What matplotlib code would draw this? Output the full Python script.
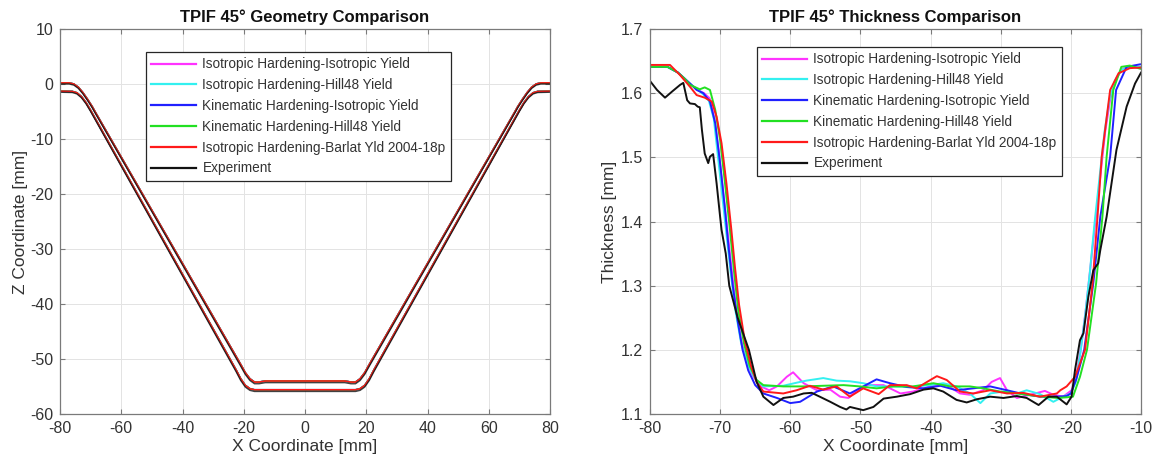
import matplotlib
matplotlib.use("Agg")
import matplotlib.pyplot as plt

plt.rcParams['font.family'] = ['Liberation Sans', 'DejaVu Sans']
plt.rcParams['axes.unicode_minus'] = False

# ---------------- Data: geometry (left) ----------------
# simulated top surface
geo_sim_top_x = [-80, -77, -75.5, -74, -72.5, -71, -69.5, -68.6, -21, -19.5, -18, -16.5, -15, -13,
                 13, 15, 16.5, 18, 19.5, 21, 68.6, 69.5, 71, 72.5, 74, 75.5, 77, 80]
geo_sim_top_z = [0.2, 0.2, 0.0, -0.6, -1.6, -2.8, -4.1, -5.0, -51.0, -52.5, -53.6, -54.2, -54.2, -54.0,
                 -54.0, -54.2, -54.2, -53.6, -52.5, -51.0, -5.0, -4.1, -2.8, -1.6, -0.6, 0.0, 0.2, 0.2]
# simulated bottom surface
geo_sim_bot_x = [-80, -76, -74.5, -73, -71.5, -70, -22.5, -21, -19.5, -18, -16.5, -15,
                 15, 16.5, 18, 19.5, 21, 22.5, 70, 71.5, 73, 74.5, 76, 80]
geo_sim_bot_z = [-1.3, -1.35, -1.6, -2.3, -3.4, -4.8, -52.0, -53.6, -54.8, -55.4, -55.6, -55.6,
                 -55.6, -55.6, -55.4, -54.8, -53.6, -52.0, -4.8, -3.4, -2.3, -1.6, -1.35, -1.3]
# experiment surfaces
geo_exp_top_x = [-80, -77, -75.5, -74, -72.5, -71, -69.5, -68.6, -21, -19.5, -18, -16.5, -15, -13,
                 13, 15, 16.5, 18, 19.5, 21, 68.6, 69.5, 71, 72.5, 74, 75.5, 77, 80]
geo_exp_top_z = [0.0, 0.0, -0.2, -0.8, -1.8, -3.0, -4.3, -5.2, -51.3, -52.8, -53.9, -54.5, -54.5, -54.3,
                 -54.3, -54.5, -54.5, -53.9, -52.8, -51.3, -5.2, -4.3, -3.0, -1.8, -0.8, -0.2, 0.0, 0.0]
geo_exp_bot_x = [-80, -76, -74.5, -73, -71.5, -70, -22.5, -21, -19.5, -18, -16.5, -15,
                 15, 16.5, 18, 19.5, 21, 22.5, 70, 71.5, 73, 74.5, 76, 80]
geo_exp_bot_z = [-1.5, -1.55, -1.8, -2.5, -3.6, -5.0, -52.3, -53.9, -55.1, -55.7, -55.9, -55.9,
                 -55.9, -55.9, -55.7, -55.1, -53.9, -52.3, -5.0, -3.6, -2.5, -1.8, -1.55, -1.5]

# ---------------- Data: thickness (right) ----------------
th_iso_iso_x = [-80, -77.5, -76, -75, -74, -73, -72.3, -71.5, -70.8, -70.2, -69.6, -69.0, -68.4, -67.8,
                -67.0, -66.2, -65.2, -64.2, -63.0, -61.9, -60.5, -59.6, -58.1, -56.2, -54.3, -52.9,
                -51.7, -50.5, -48.9, -46.7, -44.3, -42.5, -40.1, -37.7, -35.8, -34.4, -32.5, -31.3,
                -30.1, -29.1, -27.7, -25.8, -23.7, -22.5, -21.1, -19.9, -19.2, -18.6, -17.9, -17.2,
                -16.5, -15.8, -15.1, -14.4, -13.6, -12.8, -11.8, -10]
th_iso_iso_y = [1.641, 1.641, 1.632, 1.622, 1.612, 1.604, 1.600, 1.592, 1.560, 1.51, 1.45, 1.39, 1.33, 1.27,
                1.215, 1.18, 1.157, 1.143, 1.137, 1.143, 1.158, 1.165, 1.148, 1.137, 1.138, 1.127,
                1.125, 1.137, 1.145, 1.145, 1.132, 1.135, 1.143, 1.145, 1.132, 1.130, 1.137, 1.150,
                1.156, 1.137, 1.125, 1.130, 1.136, 1.130, 1.127, 1.137, 1.16, 1.20, 1.26, 1.33,
                1.40, 1.47, 1.54, 1.59, 1.62, 1.637, 1.641, 1.640]

th_iso_hill_x = [-80, -77.5, -76, -75, -74, -73, -72.4, -71.6, -70.9, -70.3, -69.7, -69.1, -68.5, -67.8,
                 -67.0, -66.0, -65.0, -63.84, -61, -58.6, -57.7, -55.3, -53.4, -51.5, -49.6, -47.7,
                 -45.3, -42.9, -40.1, -38.2, -36.3, -34.4, -32.9, -31.5, -29.6, -27.7, -26.3, -24.4,
                 -22.5, -21.1, -20.0, -19.3, -18.7, -18.0, -17.3, -16.6, -15.9, -15.2, -14.5, -13.7,
                 -12.8, -11.8, -10]
th_iso_hill_y = [1.641, 1.641, 1.632, 1.622, 1.612, 1.604, 1.598, 1.588, 1.56, 1.50, 1.44, 1.38, 1.32, 1.26,
                 1.21, 1.175, 1.155, 1.143, 1.144, 1.150, 1.152, 1.156, 1.152, 1.151, 1.148, 1.143,
                 1.143, 1.142, 1.145, 1.148, 1.143, 1.132, 1.117, 1.132, 1.135, 1.132, 1.137, 1.131,
                 1.119, 1.127, 1.132, 1.15, 1.19, 1.25, 1.32, 1.40, 1.47, 1.54, 1.59, 1.62,
                 1.636, 1.641, 1.641]

th_kin_iso_x = [-80, -77.5, -76, -75, -74, -73.35, -72.4, -71.45, -70.7, -70.0, -69.3, -68.8, -68.2, -67.5,
                -66.8, -66.0, -65.0, -63.84, -61.9, -60.0, -58.6, -56.2, -53.9, -51.5, -49.6, -47.7,
                -45.8, -43.4, -41.0, -38.6, -36.3, -33.9, -31.5, -29.1, -26.8, -24.4, -22.0, -20.6,
                -20.0, -19.2, -18.1, -16.8, -15.8, -14.4, -13.55, -12.05, -10.1, -10]
th_kin_iso_y = [1.641, 1.641, 1.632, 1.622, 1.612, 1.605, 1.600, 1.587, 1.553, 1.490, 1.418, 1.36, 1.30, 1.245,
                1.20, 1.168, 1.145, 1.132, 1.125, 1.117, 1.119, 1.135, 1.143, 1.132, 1.143, 1.154,
                1.148, 1.142, 1.140, 1.144, 1.137, 1.140, 1.143, 1.137, 1.131, 1.127, 1.127, 1.128,
                1.132, 1.155, 1.20, 1.3037, 1.4075, 1.501, 1.605, 1.641, 1.645, 1.645]

th_kin_hill_x = [-80, -77.5, -76, -75, -74.3, -72.9, -72.2, -71.45, -70.7, -70.0, -69.3, -68.6, -68.0, -67.4,
                 -66.6, -65.8, -64.8, -63.84, -61, -58.1, -55.3, -52.4, -50.1, -47.7, -45.3, -42.5,
                 -39.6, -37.2, -34.4, -32.5, -30.1, -27.7, -24.9, -22.0, -20.6, -19.7, -18.7, -17.7,
                 -16.4, -15.5, -14.9, -13.95, -12.8, -11.6, -10.1, -10]
th_kin_hill_y = [1.641, 1.641, 1.632, 1.622, 1.613, 1.606, 1.609, 1.605, 1.574, 1.527, 1.459, 1.387, 1.32, 1.26,
                 1.21, 1.175, 1.153, 1.145, 1.143, 1.143, 1.144, 1.145, 1.143, 1.140, 1.143, 1.143,
                 1.148, 1.143, 1.143, 1.140, 1.135, 1.132, 1.128, 1.125, 1.126, 1.127, 1.158, 1.2,
                 1.3037, 1.4075, 1.501, 1.605, 1.641, 1.643, 1.638, 1.638]

th_barlat_x = [-80, -77.15, -75.7, -74.3, -73.35, -72.2, -71.2, -70.5, -69.8, -69.1, -68.4, -67.9, -67.3,
               -66.5, -65.6, -64.8, -63.84, -61.0, -59.1, -57.2, -55.3, -53.4, -51.5, -49.6, -47.4,
               -45.8, -43.4, -42.0, -40.5, -39.1, -37.7, -35.8, -33.9, -31.5, -29.1, -26.8, -24.4,
               -22.0, -21.5, -20.6, -19.4, -17.98, -16.9, -16.2, -15.6, -14.4, -13.2, -11.6, -10]
th_barlat_y = [1.644, 1.644, 1.628, 1.610, 1.597, 1.593, 1.587, 1.563, 1.522, 1.459, 1.387, 1.33, 1.27,
               1.215, 1.175, 1.15, 1.135, 1.132, 1.137, 1.144, 1.138, 1.143, 1.127, 1.140, 1.131,
               1.145, 1.145, 1.140, 1.150, 1.159, 1.153, 1.135, 1.132, 1.137, 1.132, 1.133, 1.127,
               1.132, 1.137, 1.143, 1.158, 1.2, 1.3037, 1.4075, 1.501, 1.605, 1.631, 1.639, 1.640]

th_exp_x = [-80, -79, -77.86, -76.8, -75.7, -75.25, -74.7, -74.3, -73.6, -73.2, -72.9, -72.6, -72.2,
            -71.7, -71.45, -71.0, -70.5, -70.0, -69.8, -69.2, -68.7, -67.5, -65.9, -64.8, -63.84,
            -62.4, -61.0, -59.6, -58.1, -56.95, -55.8, -54.3, -52.9, -52.0, -51.5, -49.6, -48.15,
            -46.7, -44.8, -42.9, -41.0, -39.6, -38.2, -36.3, -34.85, -33.4, -31.5, -29.6, -27.7,
            -26.3, -24.6, -23.2, -22.0, -20.6, -19.9, -19.4, -18.7, -18.2, -17.5, -16.8, -16.1,
            -15.8, -14.9, -14.2, -13.5, -12.05, -10.85, -10.0]
th_exp_y = [1.619, 1.605, 1.593, 1.603, 1.613, 1.616, 1.589, 1.584, 1.583, 1.579, 1.578, 1.543, 1.506,
            1.491, 1.501, 1.505, 1.459, 1.407, 1.387, 1.35, 1.30, 1.25, 1.2, 1.15, 1.127,
            1.114, 1.125, 1.127, 1.132, 1.133, 1.127, 1.119, 1.111, 1.107, 1.111, 1.106, 1.111,
            1.124, 1.127, 1.131, 1.138, 1.140, 1.135, 1.122, 1.118, 1.123, 1.127, 1.125, 1.128,
            1.125, 1.114, 1.127, 1.127, 1.115, 1.127, 1.169, 1.215, 1.226, 1.283, 1.324, 1.335,
            1.3556, 1.4075, 1.4595, 1.5115, 1.579, 1.615, 1.632]

labels = ["Isotropic Hardening-Isotropic Yield",
          "Isotropic Hardening-Hill48 Yield",
          "Kinematic Hardening-Isotropic Yield",
          "Kinematic Hardening-Hill48 Yield",
          "Isotropic Hardening-Barlat Yld 2004-18p",
          "Experiment"]
colors = ["#ff33ff", "#33f0f0", "#2020ff", "#22e022", "#ff1a1a", "#111111"]

thickness_series = [(th_iso_iso_x, th_iso_iso_y), (th_iso_hill_x, th_iso_hill_y),
                    (th_kin_iso_x, th_kin_iso_y), (th_kin_hill_x, th_kin_hill_y),
                    (th_barlat_x, th_barlat_y), (th_exp_x, th_exp_y)]

# ---------------- Figure ----------------
W, H = 1157, 469
fig = plt.figure(figsize=(W / 100, H / 100), dpi=100)

def px_axes(x0, y0, x1, y1):
    return fig.add_axes([x0 / W, 1 - y1 / H, (x1 - x0) / W, (y1 - y0) / H])

ax1 = px_axes(60, 29, 550, 414)
ax2 = px_axes(650, 29, 1141, 414)

text_col = "#333333"
edge_col = "#7a7a7a"

def style(ax):
    ax.grid(True, color="#e3e3e3", linewidth=0.7)
    ax.set_axisbelow(True)
    for s in ax.spines.values():
        s.set_color(edge_col)
        s.set_linewidth(0.9)
    ax.tick_params(direction="in", top=True, right=True, length=3.5, width=0.8,
                   color=edge_col, labelcolor=text_col, labelsize=11.5, pad=5)

# left chart
for i in range(5):
    ax1.plot(geo_sim_top_x, geo_sim_top_z, color=colors[i], lw=1.2, label=labels[i])
    ax1.plot(geo_sim_bot_x, geo_sim_bot_z, color=colors[i], lw=1.2)
ax1.plot(geo_exp_top_x, geo_exp_top_z, color=colors[5], lw=1.0, label=labels[5], alpha=0.8)
ax1.plot(geo_exp_bot_x, geo_exp_bot_z, color=colors[5], lw=1.0, alpha=0.8)
ax1.set_xlim(-80, 80)
ax1.set_ylim(-60, 10)
ax1.set_xticks(range(-80, 81, 20))
ax1.set_yticks(range(-60, 11, 10))
style(ax1)
ax1.set_title("TPIF 45° Geometry Comparison", fontsize=12, fontweight="bold", color="#111111", pad=5)
ax1.set_xlabel("X Coordinate [mm]", fontsize=12.5, color=text_col, labelpad=2)
ax1.set_ylabel("Z Coordinate [mm]", fontsize=12.5, color=text_col, labelpad=1)

# right chart
for (xs, ys), c, lab in zip(thickness_series, colors, labels):
    ax2.plot(xs, ys, color=c, lw=1.4, label=lab)
ax2.set_xlim(-80, -10)
ax2.set_ylim(1.1, 1.7)
ax2.set_xticks(range(-80, -9, 10))
ax2.set_yticks([1.1, 1.2, 1.3, 1.4, 1.5, 1.6, 1.7])
style(ax2)
ax2.set_title("TPIF 45° Thickness Comparison", fontsize=12, fontweight="bold", color="#111111", pad=5)
ax2.set_xlabel("X Coordinate [mm]", fontsize=12.5, color=text_col, labelpad=2)
ax2.set_ylabel("Thickness [mm]", fontsize=12.5, color=text_col, labelpad=3)

def legend(ax, x, y):
    leg = ax.legend(loc="upper left", bbox_to_anchor=(x, y), borderaxespad=0, fontsize=9.8,
                    frameon=True, fancybox=False, handlelength=3.3, handletextpad=0.45,
                    labelspacing=0.5, borderpad=0.4)
    fr = leg.get_frame()
    fr.set_edgecolor("#262626")
    fr.set_linewidth(0.9)
    fr.set_alpha(1)
    for t in leg.get_texts():
        t.set_color(text_col)
    for l in leg.get_lines():
        l.set_linewidth(1.6)
        l.set_alpha(1)

legend(ax1, (146 - 60) / 490, (414 - 52) / 385)
legend(ax2, (757 - 650) / 491, (414 - 47) / 385)

fig.savefig("out.png", dpi=100, facecolor="white")
